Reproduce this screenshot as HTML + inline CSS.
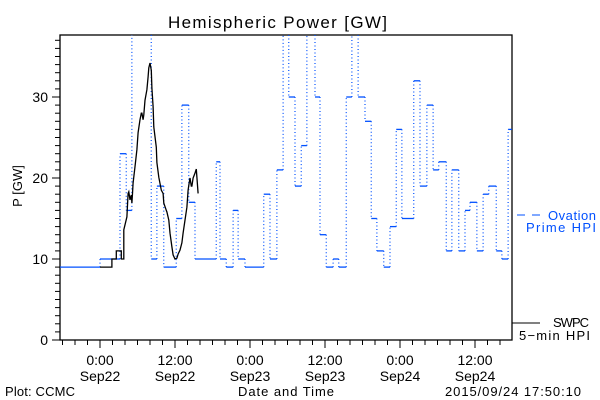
<!DOCTYPE html>
<html><head><meta charset="utf-8"><style>
html,body{margin:0;padding:0;background:#fff;}
svg{display:block;font-family:"Liberation Sans",sans-serif;}
</style></head><body>
<svg id="chart" width="600" height="400" viewBox="0 0 600 400">
<text x="168" y="28" font-size="17" textLength="219" lengthAdjust="spacing">Hemispheric Power [GW]</text>
<text transform="translate(22,186) rotate(-90)" font-size="13" text-anchor="middle">P [GW]</text>
<text x="238" y="396" font-size="13" textLength="96" lengthAdjust="spacing">Date and Time</text>
<text x="5" y="396" font-size="13" textLength="70" lengthAdjust="spacing">Plot: CCMC</text>
<text x="445" y="396" font-size="13" textLength="136" lengthAdjust="spacing">2015/09/24 17:50:10</text>
<g id="axes"></g>
<g id="series"></g>
<g>
<line x1="517" y1="215" x2="525" y2="215" stroke="#0050ff" stroke-width="1"/>
<line x1="532" y1="215" x2="540" y2="215" stroke="#0050ff" stroke-width="1"/>
<text x="548" y="220" font-size="13" fill="#0050ff" textLength="48" lengthAdjust="spacing">Ovation</text>
<text x="526" y="232" font-size="13" fill="#0050ff" textLength="70" lengthAdjust="spacing">Prime HPI</text>
<line x1="512" y1="323" x2="540" y2="323" stroke="#000" stroke-width="1"/>
<text x="553" y="327" font-size="13" textLength="36" lengthAdjust="spacing">SWPC</text>
<text x="519" y="340" font-size="13" textLength="71" lengthAdjust="spacing">5−min HPI</text>
</g>
</svg>
<script>
// Ovation Prime HPI (hourly steps): start hour (relative to Sep22 0:00) and value GW
const ovTimes = [-6.4,0,3.2,4.2,5.1,8.2,9.1,10.2,12.2,13.1,14.2,15.2,18.6,19.2,20.2,21.3,22.1,23.2,26.2,27.2,28.3,29.3,30.2,31.2,32.2,33.1,34.4,35.2,36.2,37.3,38.2,39.4,40.3,41.3,42.4,43.4,44.3,45.4,46.4,47.4,48.3,50.2,51.2,52.3,53.3,54.2,55.4,56.3,57.4,58.4,59.2,60.3,61.3,62.2,63.4,64.3,65.3];
const ovValues = [9,10,23,16,45,10,19,9,15,29,17,10,22,10,9,16,10,9,18,10,21,45,30,19,24,45,30,13,9,10,9,30,45,30,27,15,11,9,14,26,15,32,19,29,21,22,11,21,11,16,17,11,18,19,11,10,26];
const ovEnd = 65.9;
// SWPC 5-min HPI
const swTimes = [0,1.9,1.9,2.6,2.6,3.4,3.4,3.8,3.8,3.8,4.3,4.5,4.6,4.8,5,5.1,5.2,5.3,5.6,5.9,6.1,6.4,6.6,6.7,6.9,7,7.2,7.5,7.7,7.8,8,8.2,8.3,8.5,8.6,8.8,9,9.1,9.4,9.8,10.1,10.2,10.6,10.7,11,11.2,11.5,11.7,12,12.3,12.5,12.8,13.1,13.3,13.6,13.9,14.1,14.2,14.4,14.6,14.7,14.9,15.2,15.4,15.5,15.7];
const swValues = [9,9,10,10,11,11,10,10,11,13.6,15.2,18.1,18.3,17.3,17.9,16.9,18.1,19.4,21.4,23.5,25.6,27.2,28,28,27.2,27.8,29.6,30.9,32.5,33.6,34.2,33.3,31.1,28.8,26.3,25.1,23.8,21.9,20.1,18.5,18.1,16.9,16,15.8,14.8,13.2,11.5,10.5,10,10.1,10.6,11.1,12,13.2,14.8,16.4,18.5,19.1,20,19,19,20,20.6,21.1,20.1,18.1];
const yTickVals = [0,10,20,30];
const xTickHours = [0,12,24,36,48,60];
const xTickTimes = ["0:00","12:00","0:00","12:00","0:00","12:00"];
const xTickDates = ["Sep22","Sep22","Sep23","Sep23","Sep24","Sep24"];

const L=60,R=512,T=35,B=340;
const xs = h => 100 + h*6.25;
const ys = v => B - v*8.1;
const NS="http://www.w3.org/2000/svg";
const axes=document.getElementById('axes'), ser=document.getElementById('series');
function mk(tag, attrs, parent){const e=document.createElementNS(NS,tag);for(const k in attrs)e.setAttribute(k,attrs[k]);parent.appendChild(e);return e;}

const frame=mk('rect',{x:L,y:T,width:R-L,height:B-T,fill:'none',stroke:'#000','stroke-width':1.3},axes);



for(let v=0; ys(v)>=T; v++){
  const major = v%10===0;
  const t=mk('line',{x1:L-(major?8:5),x2:L,y1:ys(v),y2:ys(v),stroke:'#000'},axes);
  
  
}
yTickVals.forEach(v=>{
  const t=mk('text',{x:L-12,y:ys(v)+5,'font-size':14,'text-anchor':'end'},axes);
  t.textContent=v;
  
  
});
for(let h=-6; xs(h)<=R; h+=2){
  if(xs(h)<L) continue;
  const major = h%12===0;
  const t=mk('line',{x1:xs(h),x2:xs(h),y1:B,y2:B+(major?8:5),stroke:'#000'},axes);
  
  
}
xTickHours.forEach((h,i)=>{
  const a=mk('text',{x:xs(h),y:365,'font-size':14,'text-anchor':'middle'},axes);
  a.textContent=xTickTimes[i];
  
  
  const b=mk('text',{x:xs(h),y:381,'font-size':14,'text-anchor':'middle'},axes);
  b.textContent=xTickDates[i];
  
  
});

const clip=mk('clipPath',{id:'pc'},mk('defs',{},ser));
mk('rect',{x:L,y:T,width:R-L,height:B-T},clip);
const g=mk('g',{'clip-path':'url(#pc)'},ser);


const blue='#0050ff';
for(let i=0;i<ovTimes.length;i++){
  const x0=xs(ovTimes[i]), x1=xs(i+1<ovTimes.length?ovTimes[i+1]:ovEnd), y=ys(ovValues[i]);
  const h=mk('line',{x1:x0,x2:x1,y1:y,y2:y,stroke:blue,'stroke-width':1.3},g);
  
  
  if(i+1<ovTimes.length){
    const v=mk('line',{x1:x1,x2:x1,y1:y,y2:ys(ovValues[i+1]),stroke:blue,'stroke-width':1.2,'stroke-dasharray':'1 2.5'},g);
    
    
  }
}
const pts=swTimes.map((t,i)=>xs(t).toFixed(1)+','+ys(swValues[i]).toFixed(1)).join(' ');
const pl=mk('polyline',{points:pts,fill:'none',stroke:'#000','stroke-width':1.3},g);


</script>
</body></html>
